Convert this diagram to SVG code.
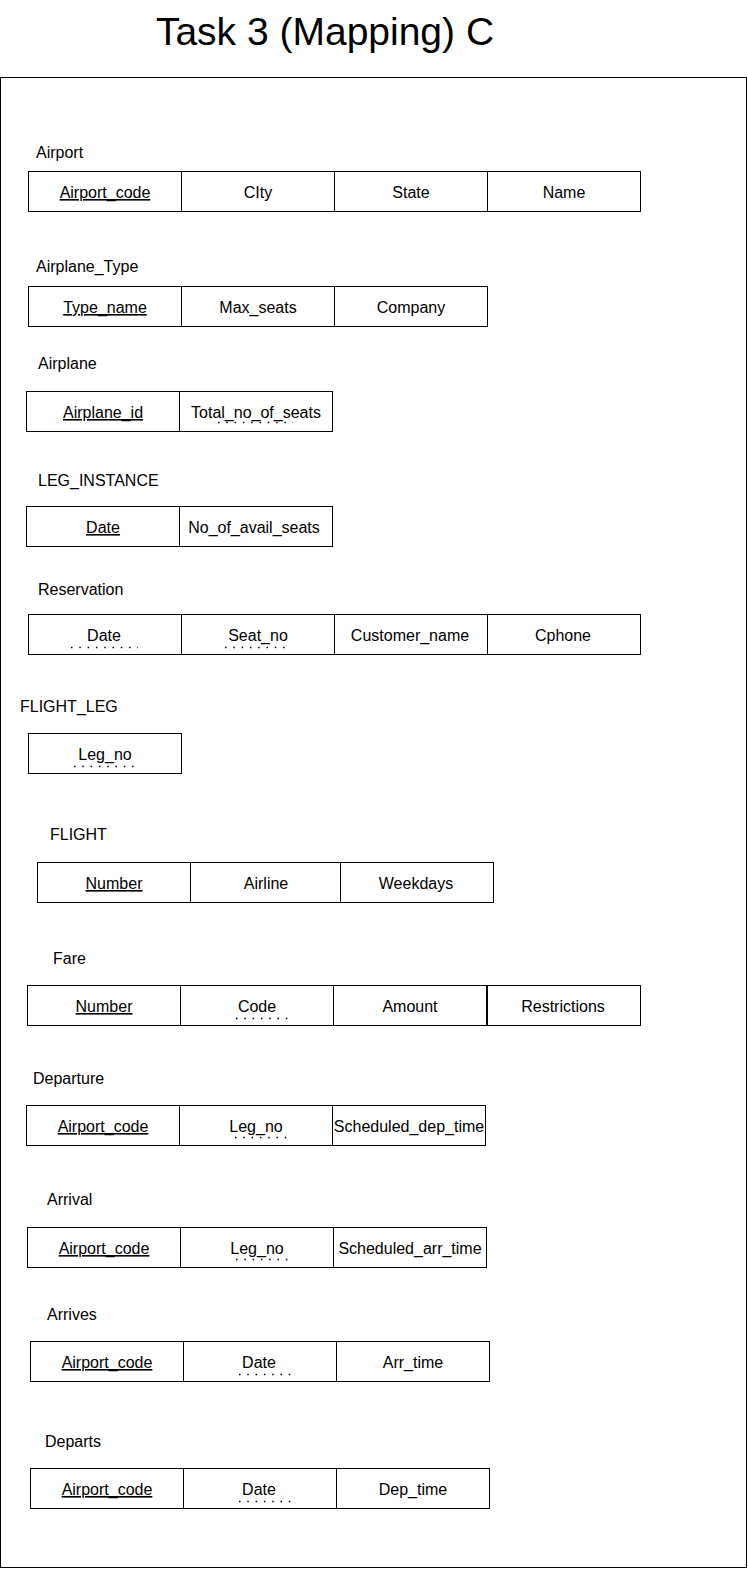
<svg xmlns="http://www.w3.org/2000/svg" width="748" height="1570" viewBox="0 0 748 1570">
<style>
text{font-family:"Liberation Sans",Arial,sans-serif;fill:#000}
.t{font-size:39px;text-anchor:middle}
.l{font-size:16px}
.c{font-size:16px;text-anchor:middle}
.k{text-decoration:underline}
rect{fill:#fff;stroke:#000;stroke-width:1}
.d{stroke:#000;stroke-width:1.5;stroke-dasharray:1.5 6.8;fill:none}
</style>
<rect x="0.5" y="77.5" width="746" height="1490"/>
<text class="t" x="325" y="45">Task 3 (Mapping) C</text>

<g id="airport">
<text class="l" x="36" y="158">Airport</text>
<rect x="28.5" y="171.5" width="153" height="40"/><rect x="181.5" y="171.5" width="153" height="40"/><rect x="334.5" y="171.5" width="153" height="40"/><rect x="487.5" y="171.5" width="153" height="40"/>
<text class="c k" x="105" y="198">Airport_code</text><text class="c" x="258" y="198">CIty</text><text class="c" x="411" y="198">State</text><text class="c" x="564" y="198">Name</text>
</g>

<g id="airplane_type">
<text class="l" x="36" y="272">Airplane_Type</text>
<rect x="28.5" y="286.5" width="153" height="40"/><rect x="181.5" y="286.5" width="153" height="40"/><rect x="334.5" y="286.5" width="153" height="40"/>
<text class="c k" x="105" y="313">Type_name</text><text class="c" x="258" y="313">Max_seats</text><text class="c" x="411" y="313">Company</text>
</g>

<g id="airplane">
<text class="l" x="38" y="369">Airplane</text>
<rect x="26.5" y="391.5" width="153" height="40"/><rect x="179.5" y="391.5" width="153" height="40"/>
<text class="c k" x="103" y="418">Airplane_id</text><text class="c" x="256" y="418">Total_no_of_seats</text>
<line class="d" x1="218" y1="422.5" x2="293" y2="422.5"/>
</g>

<g id="leg_instance">
<text class="l" x="38" y="486">LEG_INSTANCE</text>
<rect x="26.5" y="506.5" width="153" height="40"/><rect x="179.5" y="506.5" width="153" height="40"/>
<text class="c k" x="103" y="533">Date</text><text class="c" x="254" y="533">No_of_avail_seats</text>
</g>

<g id="reservation">
<text class="l" x="38" y="595">Reservation</text>
<rect x="28.5" y="614.5" width="153" height="40"/><rect x="181.5" y="614.5" width="153" height="40"/><rect x="334.5" y="614.5" width="153" height="40"/><rect x="487.5" y="614.5" width="153" height="40"/>
<text class="c" x="104" y="641">Date</text><text class="c" x="258" y="641">Seat_no</text><text class="c" x="410" y="641">Customer_name</text><text class="c" x="563" y="641">Cphone</text>
<line class="d" x1="71" y1="647.5" x2="138" y2="647.5"/>
<line class="d" x1="225" y1="647.5" x2="291" y2="647.5"/>
</g>

<g id="flight_leg">
<text class="l" x="20" y="712">FLIGHT_LEG</text>
<rect x="28.5" y="733.5" width="153" height="40"/>
<text class="c" x="105" y="760">Leg_no</text>
<line class="d" x1="74" y1="766.5" x2="140" y2="766.5"/>
</g>

<g id="flight">
<text class="l" x="50" y="840">FLIGHT</text>
<rect x="37.5" y="862.5" width="153" height="40"/><rect x="190.5" y="862.5" width="150" height="40"/><rect x="340.5" y="862.5" width="153" height="40"/>
<text class="c k" x="114" y="889">Number</text><text class="c" x="266" y="889">Airline</text><text class="c" x="416" y="889">Weekdays</text>
</g>

<g id="fare">
<text class="l" x="53" y="964">Fare</text>
<rect x="27.5" y="985.5" width="153" height="40"/><rect x="180.5" y="985.5" width="153" height="40"/><rect x="333.5" y="985.5" width="153" height="40"/><rect x="487.5" y="985.5" width="153" height="40"/>
<text class="c k" x="104" y="1012">Number</text><text class="c" x="257" y="1012">Code</text><text class="c" x="410" y="1012">Amount</text><text class="c" x="563" y="1012">Restrictions</text>
<line class="d" x1="236" y1="1018.5" x2="288" y2="1018.5"/>
</g>

<g id="departure">
<text class="l" x="33" y="1084">Departure</text>
<rect x="26.5" y="1105.5" width="153" height="40"/><rect x="179.5" y="1105.5" width="153" height="40"/><rect x="332.5" y="1105.5" width="153" height="40"/>
<text class="c k" x="103" y="1132">Airport_code</text><text class="c" x="256" y="1132">Leg_no</text><text class="c" x="409" y="1132">Scheduled_dep_time</text>
<line class="d" x1="235" y1="1137.5" x2="287" y2="1137.5"/>
</g>

<g id="arrival">
<text class="l" x="47" y="1205">Arrival</text>
<rect x="27.5" y="1227.5" width="153" height="40"/><rect x="180.5" y="1227.5" width="153" height="40"/><rect x="333.5" y="1227.5" width="153" height="40"/>
<text class="c k" x="104" y="1254">Airport_code</text><text class="c" x="257" y="1254">Leg_no</text><text class="c" x="410" y="1254">Scheduled_arr_time</text>
<line class="d" x1="236" y1="1259.5" x2="288" y2="1259.5"/>
</g>

<g id="arrives">
<text class="l" x="47" y="1320">Arrives</text>
<rect x="30.5" y="1341.5" width="153" height="40"/><rect x="183.5" y="1341.5" width="153" height="40"/><rect x="336.5" y="1341.5" width="153" height="40"/>
<text class="c k" x="107" y="1368">Airport_code</text><text class="c" x="259" y="1368">Date</text><text class="c" x="413" y="1368">Arr_time</text>
<line class="d" x1="239" y1="1374.5" x2="291" y2="1374.5"/>
</g>

<g id="departs">
<text class="l" x="45" y="1447">Departs</text>
<rect x="30.5" y="1468.5" width="153" height="40"/><rect x="183.5" y="1468.5" width="153" height="40"/><rect x="336.5" y="1468.5" width="153" height="40"/>
<text class="c k" x="107" y="1495">Airport_code</text><text class="c" x="259" y="1495">Date</text><text class="c" x="413" y="1495">Dep_time</text>
<line class="d" x1="239" y1="1501.5" x2="291" y2="1501.5"/>
</g>
</svg>
